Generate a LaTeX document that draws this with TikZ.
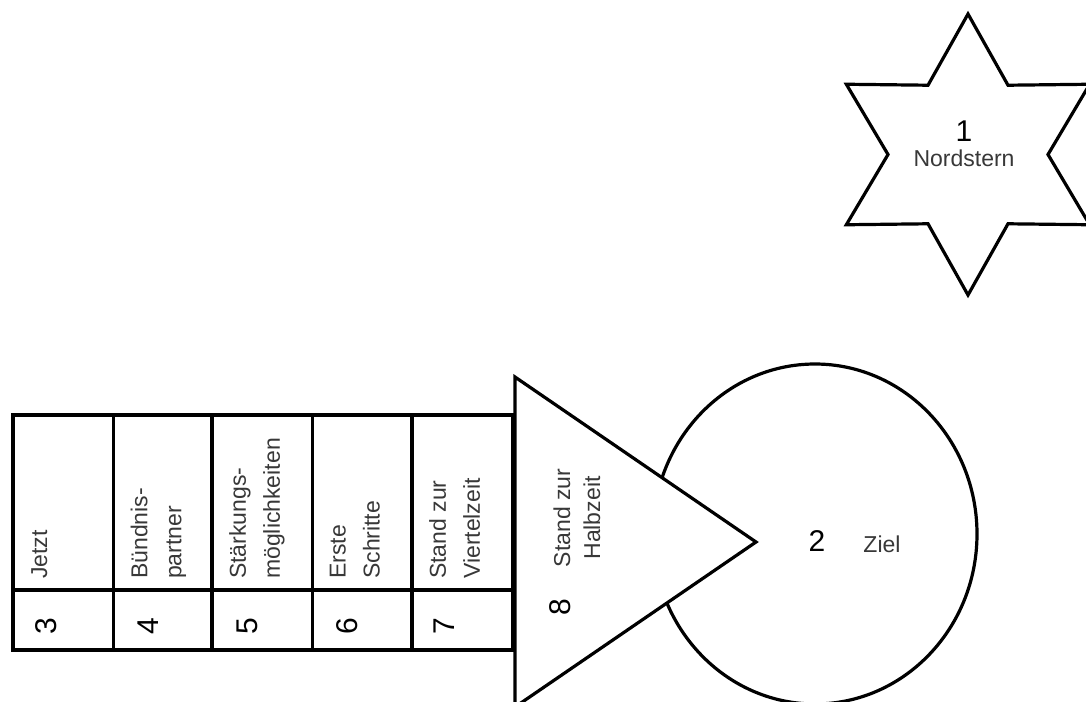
\documentclass[tikz,border=0pt]{standalone}
\usepackage{fontspec}
\setmainfont{Liberation Sans}
\usetikzlibrary{shapes.geometric}
\begin{document}
\begin{tikzpicture}[x=1pt,y=-1pt,
  outline/.style={draw=black, line width=3.2pt, line join=miter},
  lbl/.style={text=black!78, font=\fontsize{23}{34}\selectfont, inner sep=0pt},
  num/.style={text=black, font=\fontsize{30}{32}\selectfont, inner sep=0pt},
  celltext/.style={lbl, rotate=90, anchor=north west, align=left},
  rnum/.style={num, rotate=90},
]
\useasboundingbox (0,0) rectangle (1086,701);
\fill[white] (0,0) rectangle (1086,701);

% goal (circle)
\node[ellipse, outline, minimum width=324pt, minimum height=340pt, inner sep=0pt] (goal) at (815,534) {};

% triangle (half time)
\coordinate (tA) at (515,377);
\coordinate (tB) at (756,542);
\coordinate (tC) at (515,707);
\filldraw[outline, fill=white] (tA) -- (tB) -- (tC) -- cycle;

% table of cells
\draw[outline, fill=white] (13,415) rectangle (512.5,650);
\draw[outline] (13,590) -- (512.5,590);
\foreach \x in {113.5,212,312.5,412} \draw[outline] (\x,415) -- (\x,650);

% north star
\coordinate (sc) at (968,154.5);
\draw[outline]
  ([shift={(90:140.5)}]sc) -- ([shift={(60:80)}]sc) --
  ([shift={(30:140.5)}]sc) -- ([shift={(0:80)}]sc) --
  ([shift={(-30:140.5)}]sc) -- ([shift={(-60:80)}]sc) --
  ([shift={(-90:140.5)}]sc) -- ([shift={(-120:80)}]sc) --
  ([shift={(-150:140.5)}]sc) -- ([shift={(180:80)}]sc) --
  ([shift={(150:140.5)}]sc) -- ([shift={(120:80)}]sc) -- cycle;

% texts
\node[num] (n1) at (964,131) {1};
\node[lbl] (nordstern) at (964,158) {Nordstern};

\node[num] (n2) at (817,541) {2};
\node[lbl] (ziel) at (882,544) {Ziel};

\node[celltext] (l3) at (31,579) {Jetzt};
\node[celltext] (l4) at (130.5,579) {Bündnis-\\partner};
\node[celltext] (l5) at (229,579) {Stärkungs-\\möglichkeiten};
\node[celltext] (l6) at (329.5,579) {Erste\\Schritte};
\node[celltext] (l7) at (429,579) {Stand zur\\Viertelzeit};

\node[rnum] (n3) at (46,626) {3};
\node[rnum] (n4) at (148,626) {4};
\node[rnum] (n5) at (247,626) {5};
\node[rnum] (n6) at (347,626) {6};
\node[rnum] (n7) at (444,626) {7};

\node[lbl, rotate=90, align=center, font=\fontsize{23}{30}\selectfont] (l8) at (577,518) {Stand zur\\Halbzeit};
\node[rnum] (n8) at (560,607) {8};
\end{tikzpicture}
\end{document}
